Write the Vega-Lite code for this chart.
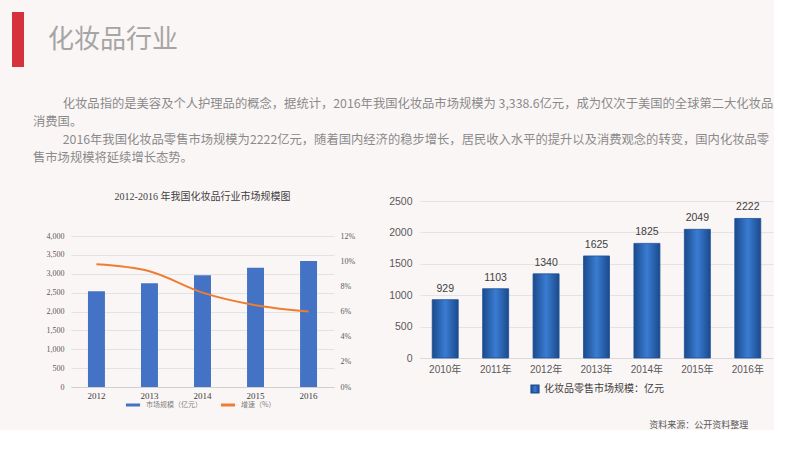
{
  "$schema": "https://vega.github.io/schema/vega-lite/v6.json",
  "background": "#fbf6f6",
  "padding": {"left": 12, "top": 12, "right": 0, "bottom": 0},
  "config": {
    "view": {"stroke": null},
    "font": "Noto Sans CJK SC",
    "title": {"fontWeight": "normal"},
    "legend": {"layout": {"bottom": {"anchor": "middle"}}}
  },
  "title": {
    "text": "资料来源：公开资料整理",
    "orient": "bottom",
    "anchor": "end",
    "fontSize": 9,
    "color": "#595959",
    "offset": 10,
    "dx": -25
  },
  "spacing": 30,
  "vconcat": [
    {
      "width": 12,
      "height": 55,
      "data": {"values": [{"k": "bar"}]},
      "mark": {"type": "rect", "color": "#d6323c"},
      "encoding": {},
      "title": {
        "text": "化妆品行业",
        "orient": "right",
        "angle": 0,
        "align": "right",
        "baseline": "middle",
        "anchor": "middle",
        "fontSize": 26,
        "color": "#a5a5a5",
        "offset": 24
      }
    },
    {
      "title": {
        "text": [
          "\u2800\u2800\u2800 化妆品指的是美容及个人护理品的概念，据统计，2016年我国化妆品市场规模为 3,338.6亿元，成为仅次于美国的全球第二大化妆品",
          "消费国。",
          "\u2800\u2800\u2800 2016年我国化妆品零售市场规模为2222亿元，随着国内经济的稳步增长，居民收入水平的提升以及消费观念的转变，国内化妆品零",
          "售市场规模将延续增长态势。"
        ],
        "anchor": "start",
        "fontSize": 12.3,
        "lineHeight": 18,
        "color": "#8a8a8a",
        "offset": 28,
        "dx": 21
      },
      "spacing": 33,
      "resolve": {
        "scale": {"color": "independent", "stroke": "independent"},
        "legend": {"color": "independent", "stroke": "independent"}
      },
      "hconcat": [
        {
          "width": 1,
          "height": 1,
          "data": {"values": [{"k": "spacer"}]},
          "mark": {"type": "rect", "opacity": 0},
          "encoding": {}
        },
        {
          "spacing": -10,
          "vconcat": [
            {
              "width": 1,
              "height": 1,
              "data": {"values": [{"k": "spacer"}]},
              "mark": {"type": "rect", "opacity": 0},
              "encoding": {}
            },
            {
              "width": 263,
              "height": 151,
              "title": {
                "text": "2012-2016 年我国化妆品行业市场规模图",
                "font": "Liberation Serif, Noto Sans CJK SC",
                "fontSize": 10,
                "color": "#404040",
                "offset": 30
              },
              "data": {
                "values": [
                  {"year": "2012", "size": 2534, "growth": 0.0975},
                  {"year": "2013", "size": 2746, "growth": 0.092},
                  {"year": "2014", "size": 2958, "growth": 0.075},
                  {"year": "2015", "size": 3161, "growth": 0.065},
                  {"year": "2016", "size": 3338.6, "growth": 0.06}
                ]
              },
              "encoding": {
                "x": {
                  "field": "year",
                  "type": "ordinal",
                  "scale": {"paddingInner": 0.68, "paddingOuter": 0.32},
                  "axis": {
                    "title": null,
                    "labelAngle": 0,
                    "labelFont": "Liberation Serif",
                    "labelFontSize": 9,
                    "labelColor": "#404040",
                    "ticks": false,
                    "labelPadding": 4,
                    "domainColor": "#d0d0d0"
                  }
                }
              },
              "layer": [
                {
                  "mark": {"type": "bar"},
                  "encoding": {
                    "y": {
                      "field": "size",
                      "type": "quantitative",
                      "scale": {"domain": [0, 4000]},
                      "axis": {
                        "title": null,
                        "values": [0, 500, 1000, 1500, 2000, 2500, 3000, 3500, 4000],
                        "format": ",.0f",
                        "labelFont": "Liberation Serif",
                        "labelFontSize": 8,
                        "labelColor": "#595959",
                        "labelPadding": 7,
                        "domain": false,
                        "ticks": false,
                        "gridColor": "#e3e3e3"
                      }
                    },
                    "color": {
                      "datum": "市场规模（亿元）",
                      "scale": {"domain": ["市场规模（亿元）", "增速（%）"], "range": ["#4472c4", "#ed7d31"]},
                      "legend": {
                        "title": null,
                        "orient": "bottom",
                        "direction": "horizontal",
                        "symbolType": "stroke",
                        "symbolStrokeWidth": 3,
                        "symbolSize": 200,
                        "labelFontSize": 7,
                        "labelColor": "#7f7f7f",
                        "offset": -4,
                        "columnPadding": 12
                      }
                    }
                  }
                },
                {
                  "mark": {"type": "line", "interpolate": "monotone", "strokeWidth": 2},
                  "encoding": {
                    "y": {
                      "field": "growth",
                      "type": "quantitative",
                      "scale": {"domain": [0, 0.12]},
                      "axis": {
                        "title": null,
                        "orient": "right",
                        "values": [0, 0.02, 0.04, 0.06, 0.08, 0.1, 0.12],
                        "format": ".0%",
                        "labelFont": "Liberation Serif",
                        "labelFontSize": 8,
                        "labelColor": "#595959",
                        "labelPadding": 6,
                        "domain": false,
                        "ticks": false,
                        "grid": false
                      }
                    },
                    "color": {"datum": "增速（%）"}
                  }
                }
              ],
              "resolve": {"scale": {"y": "independent"}}
            }
          ]
        },
        {
          "width": 353,
          "height": 157,
          "data": {
            "values": [
              {"year": "2010年", "value": 929},
              {"year": "2011年", "value": 1103},
              {"year": "2012年", "value": 1340},
              {"year": "2013年", "value": 1625},
              {"year": "2014年", "value": 1825},
              {"year": "2015年", "value": 2049},
              {"year": "2016年", "value": 2222}
            ]
          },
          "encoding": {
            "x": {
              "field": "year",
              "type": "ordinal",
              "scale": {"paddingInner": 0.484, "paddingOuter": 0.242},
              "axis": {
                "title": null,
                "labelAngle": 0,
                "labelFont": "Liberation Sans, Noto Sans CJK SC",
                "labelFontSize": 10,
                "labelColor": "#595959",
                "ticks": false,
                "labelPadding": 6,
                "domainColor": "#d9d9d9"
              }
            },
            "y": {
              "field": "value",
              "type": "quantitative",
              "scale": {"domain": [0, 2500]},
              "axis": {
                "title": null,
                "values": [0, 500, 1000, 1500, 2000, 2500],
                "format": "d",
                "labelFont": "Liberation Sans",
                "labelFontSize": 10.5,
                "labelColor": "#595959",
                "labelPadding": 8,
                "domain": false,
                "ticks": false,
                "gridColor": "#e3e3e3"
              }
            }
          },
          "layer": [
            {
              "mark": {
                "type": "bar",
                "strokeWidth": 0.8,
                "fill": {
                  "gradient": "linear",
                  "x1": 0, "y1": 0, "x2": 1, "y2": 0,
                  "stops": [
                    {"offset": 0, "color": "#1b4a8c"},
                    {"offset": 0.5, "color": "#3a7cd2"},
                    {"offset": 1, "color": "#1b4a8c"}
                  ]
                }
              },
              "encoding": {
                "stroke": {
                  "datum": "化妆品零售市场规模：亿元",
                  "scale": {"range": ["#1f5096"]},
                  "legend": {
                    "title": null,
                    "orient": "bottom",
                    "symbolType": "square",
                    "symbolFillColor": "#2a64b4",
                    "symbolSize": 60,
                    "labelFontSize": 10,
                    "labelColor": "#404040",
                    "offset": 10
                  }
                }
              }
            },
            {
              "mark": {"type": "text", "dy": -11, "fontSize": 10.5, "font": "Liberation Sans", "color": "#404040"},
              "encoding": {"text": {"field": "value", "type": "quantitative"}}
            }
          ]
        }
      ]
    }
  ]
}
